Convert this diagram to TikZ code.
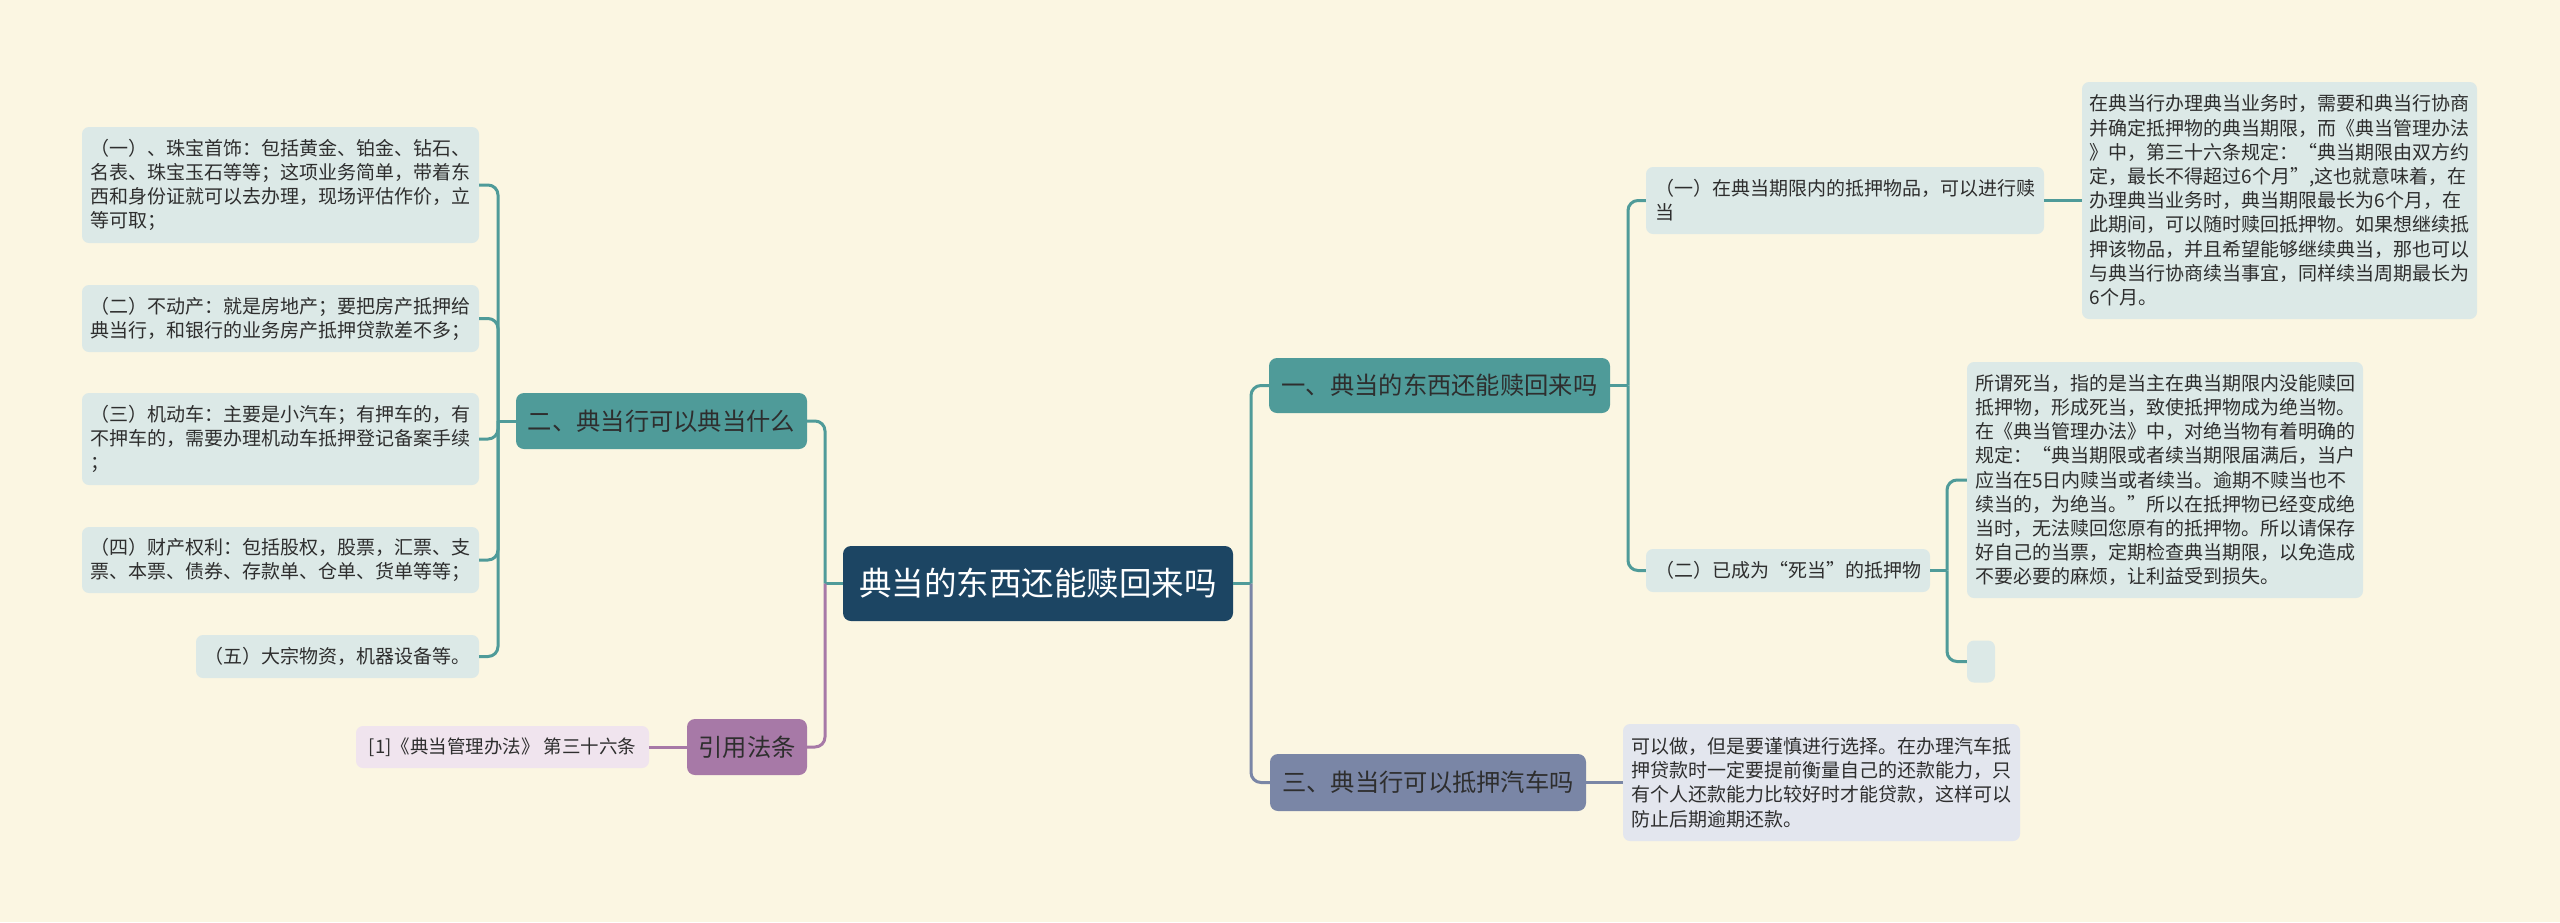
\documentclass[tikz,border=0pt]{standalone}
\usepackage{fontspec}
\setmainfont{Noto Sans CJK SC}
\definecolor{bg}{HTML}{FBF6E2}
\definecolor{rootc}{HTML}{1C4563}
\definecolor{tealc}{HTML}{4F9B99}
\definecolor{purpc}{HTML}{A779A7}
\definecolor{grayc}{HTML}{7A86A6}
\definecolor{leafteal}{HTML}{DCE9E7}
\definecolor{leafpurp}{HTML}{F0E4EE}
\definecolor{leafgray}{HTML}{E3E6EE}
\definecolor{txt}{HTML}{2E2E2E}
\begin{document}
\begin{tikzpicture}[x=1pt,y=-1pt,
  box/.style={rounded corners=7pt, inner sep=0pt, anchor=center, text=txt, align=left},
  rootbox/.style={box, fill=rootc, text=white, font=\fontsize{32.5}{38}\selectfont, rounded corners=8pt},
  mainbox/.style={box, font=\fontsize{24.3}{30}\selectfont, rounded corners=8pt},
  leaf/.style={box, font=\fontsize{19}{24.2}\selectfont},
  conn/.style={line width=3pt},
  branch/.style={conn, rounded corners=10pt}
]
\fill[bg] (0,0) rectangle (2560,922);
\useasboundingbox (0,0) rectangle (2560,922);

% root
\node[rootbox, minimum width=390pt, minimum height=75pt] (root) at (1038,583.5) {典当的东西还能赎回来吗};

% main branches
\node[mainbox, fill=tealc, minimum width=341pt, minimum height=55pt] (b1) at (1439.5,385.5) {一、典当的东西还能赎回来吗};
\node[mainbox, fill=grayc, minimum width=316pt, minimum height=57pt] (b3) at (1428,782.5) {三、典当行可以抵押汽车吗};
\node[mainbox, fill=tealc, minimum width=291pt, minimum height=56pt] (b2) at (661.5,421) {二、典当行可以典当什么};
\node[mainbox, fill=purpc, minimum width=120pt, minimum height=56pt] (b4) at (747,747) {引用法条};

% left leaves
\node[leaf, fill=leafteal, minimum width=397pt, minimum height=116pt] (l1) at (280.5,185) {（一）、珠宝首饰：包括黄金、铂金、钻石、\\名表、珠宝玉石等等；这项业务简单，带着东\\西和身份证就可以去办理，现场评估作价，立\\等可取；};
\node[leaf, fill=leafteal, minimum width=397pt, minimum height=67pt] (l2) at (280.5,318.5) {（二）不动产：就是房地产；要把房产抵押给\\典当行，和银行的业务房产抵押贷款差不多；};
\node[leaf, fill=leafteal, minimum width=397pt, minimum height=92pt] (l3) at (280.5,439) {（三）机动车：主要是小汽车；有押车的，有\\不押车的，需要办理机动车抵押登记备案手续\\；};
\node[leaf, fill=leafteal, minimum width=397pt, minimum height=66pt] (l4) at (280.5,560) {（四）财产权利：包括股权，股票，汇票、支\\票、本票、债券、存款单、仓单、货单等等；};
\node[leaf, fill=leafteal, minimum width=283pt, minimum height=43pt] (l5) at (337.5,656.5) {（五）大宗物资，机器设备等。};
\node[leaf, fill=leafpurp, minimum width=293pt, minimum height=42pt, font=\fontsize{18.5}{24}\selectfont] (cite) at (502.5,747) {[1]《典当管理办法》 第三十六条};

% right leaves
\node[leaf, fill=leafteal, minimum width=398pt, minimum height=67pt] (r1) at (1845,200.5) {（一）在典当期限内的抵押物品，可以进行赎\\当};
\node[leaf, fill=leafteal, minimum width=395pt, minimum height=237pt] (r1t) at (2279.5,200.5) {在典当行办理典当业务时，需要和典当行协商\\并确定抵押物的典当期限，而《典当管理办法\\》中，第三十六条规定：“典当期限由双方约\\定，最长不得超过6个月”,这也就意味着，在\\办理典当业务时，典当期限最长为6个月，在\\此期间，可以随时赎回抵押物。如果想继续抵\\押该物品，并且希望能够继续典当，那也可以\\与典当行协商续当事宜，同样续当周期最长为\\6个月。};
\node[leaf, fill=leafteal, minimum width=284pt, minimum height=43pt] (r2) at (1788,570.5) {（二）已成为“死当”的抵押物};
\node[leaf, fill=leafteal, minimum width=396pt, minimum height=236pt] (r2t) at (2165,480) {所谓死当，指的是当主在典当期限内没能赎回\\抵押物，形成死当，致使抵押物成为绝当物。\\在《典当管理办法》中，对绝当物有着明确的\\规定：“典当期限或者续当期限届满后，当户\\应当在5日内赎当或者续当。逾期不赎当也不\\续当的，为绝当。”所以在抵押物已经变成绝\\当时，无法赎回您原有的抵押物。所以请保存\\好自己的当票，定期检查典当期限，以免造成\\不要必要的麻烦，让利益受到损失。};
\node[leaf, fill=leafteal, minimum width=28pt, minimum height=42pt] (r2e) at (1981,661.5) {};
\node[leaf, fill=leafgray, minimum width=397pt, minimum height=117pt] (r3t) at (1821.5,782.5) {可以做，但是要谨慎进行选择。在办理汽车抵\\押贷款时一定要提前衡量自己的还款能力，只\\有个人还款能力比较好时才能贷款，这样可以\\防止后期逾期还款。};

% junctions
\coordinate (jL) at (825,583.5);
\coordinate (jR) at (1251,583.5);
\coordinate (j2) at (498,421);
\coordinate (j1) at (1628,385.5);
\coordinate (jr2) at (1947,570.5);

% connectors from root
\draw[conn, tealc] (root.west) -- (jL);
\draw[branch, tealc] (jL) |- (b2.east);
\draw[branch, purpc] (jL) |- (b4.east);
\draw[conn, tealc] (root.east) -- (jR);
\draw[branch, tealc] (jR) |- (b1.west);
\draw[branch, grayc] (jR) |- (b3.west);

% left subtree
\draw[conn, tealc] (b2.west) -- (j2);
\draw[branch, tealc] (j2) |- (l1.east);
\draw[branch, tealc] (j2) |- (l2.east);
\draw[branch, tealc] (j2) |- (l3.east);
\draw[branch, tealc] (j2) |- (l4.east);
\draw[branch, tealc] (j2) |- (l5.east);
\draw[conn, purpc] (b4.west) -- (cite.east);

% right subtree
\draw[conn, tealc] (b1.east) -- (j1);
\draw[branch, tealc] (j1) |- (r1.west);
\draw[branch, tealc] (j1) |- (r2.west);
\draw[conn, tealc] (r1.east) -- (r1t.west);
\draw[conn, tealc] (r2.east) -- (jr2);
\draw[branch, tealc] (jr2) |- (r2t.west);
\draw[branch, tealc] (jr2) |- (r2e.west);
\draw[conn, grayc] (b3.east) -- (r3t.west);
\end{tikzpicture}
\end{document}
